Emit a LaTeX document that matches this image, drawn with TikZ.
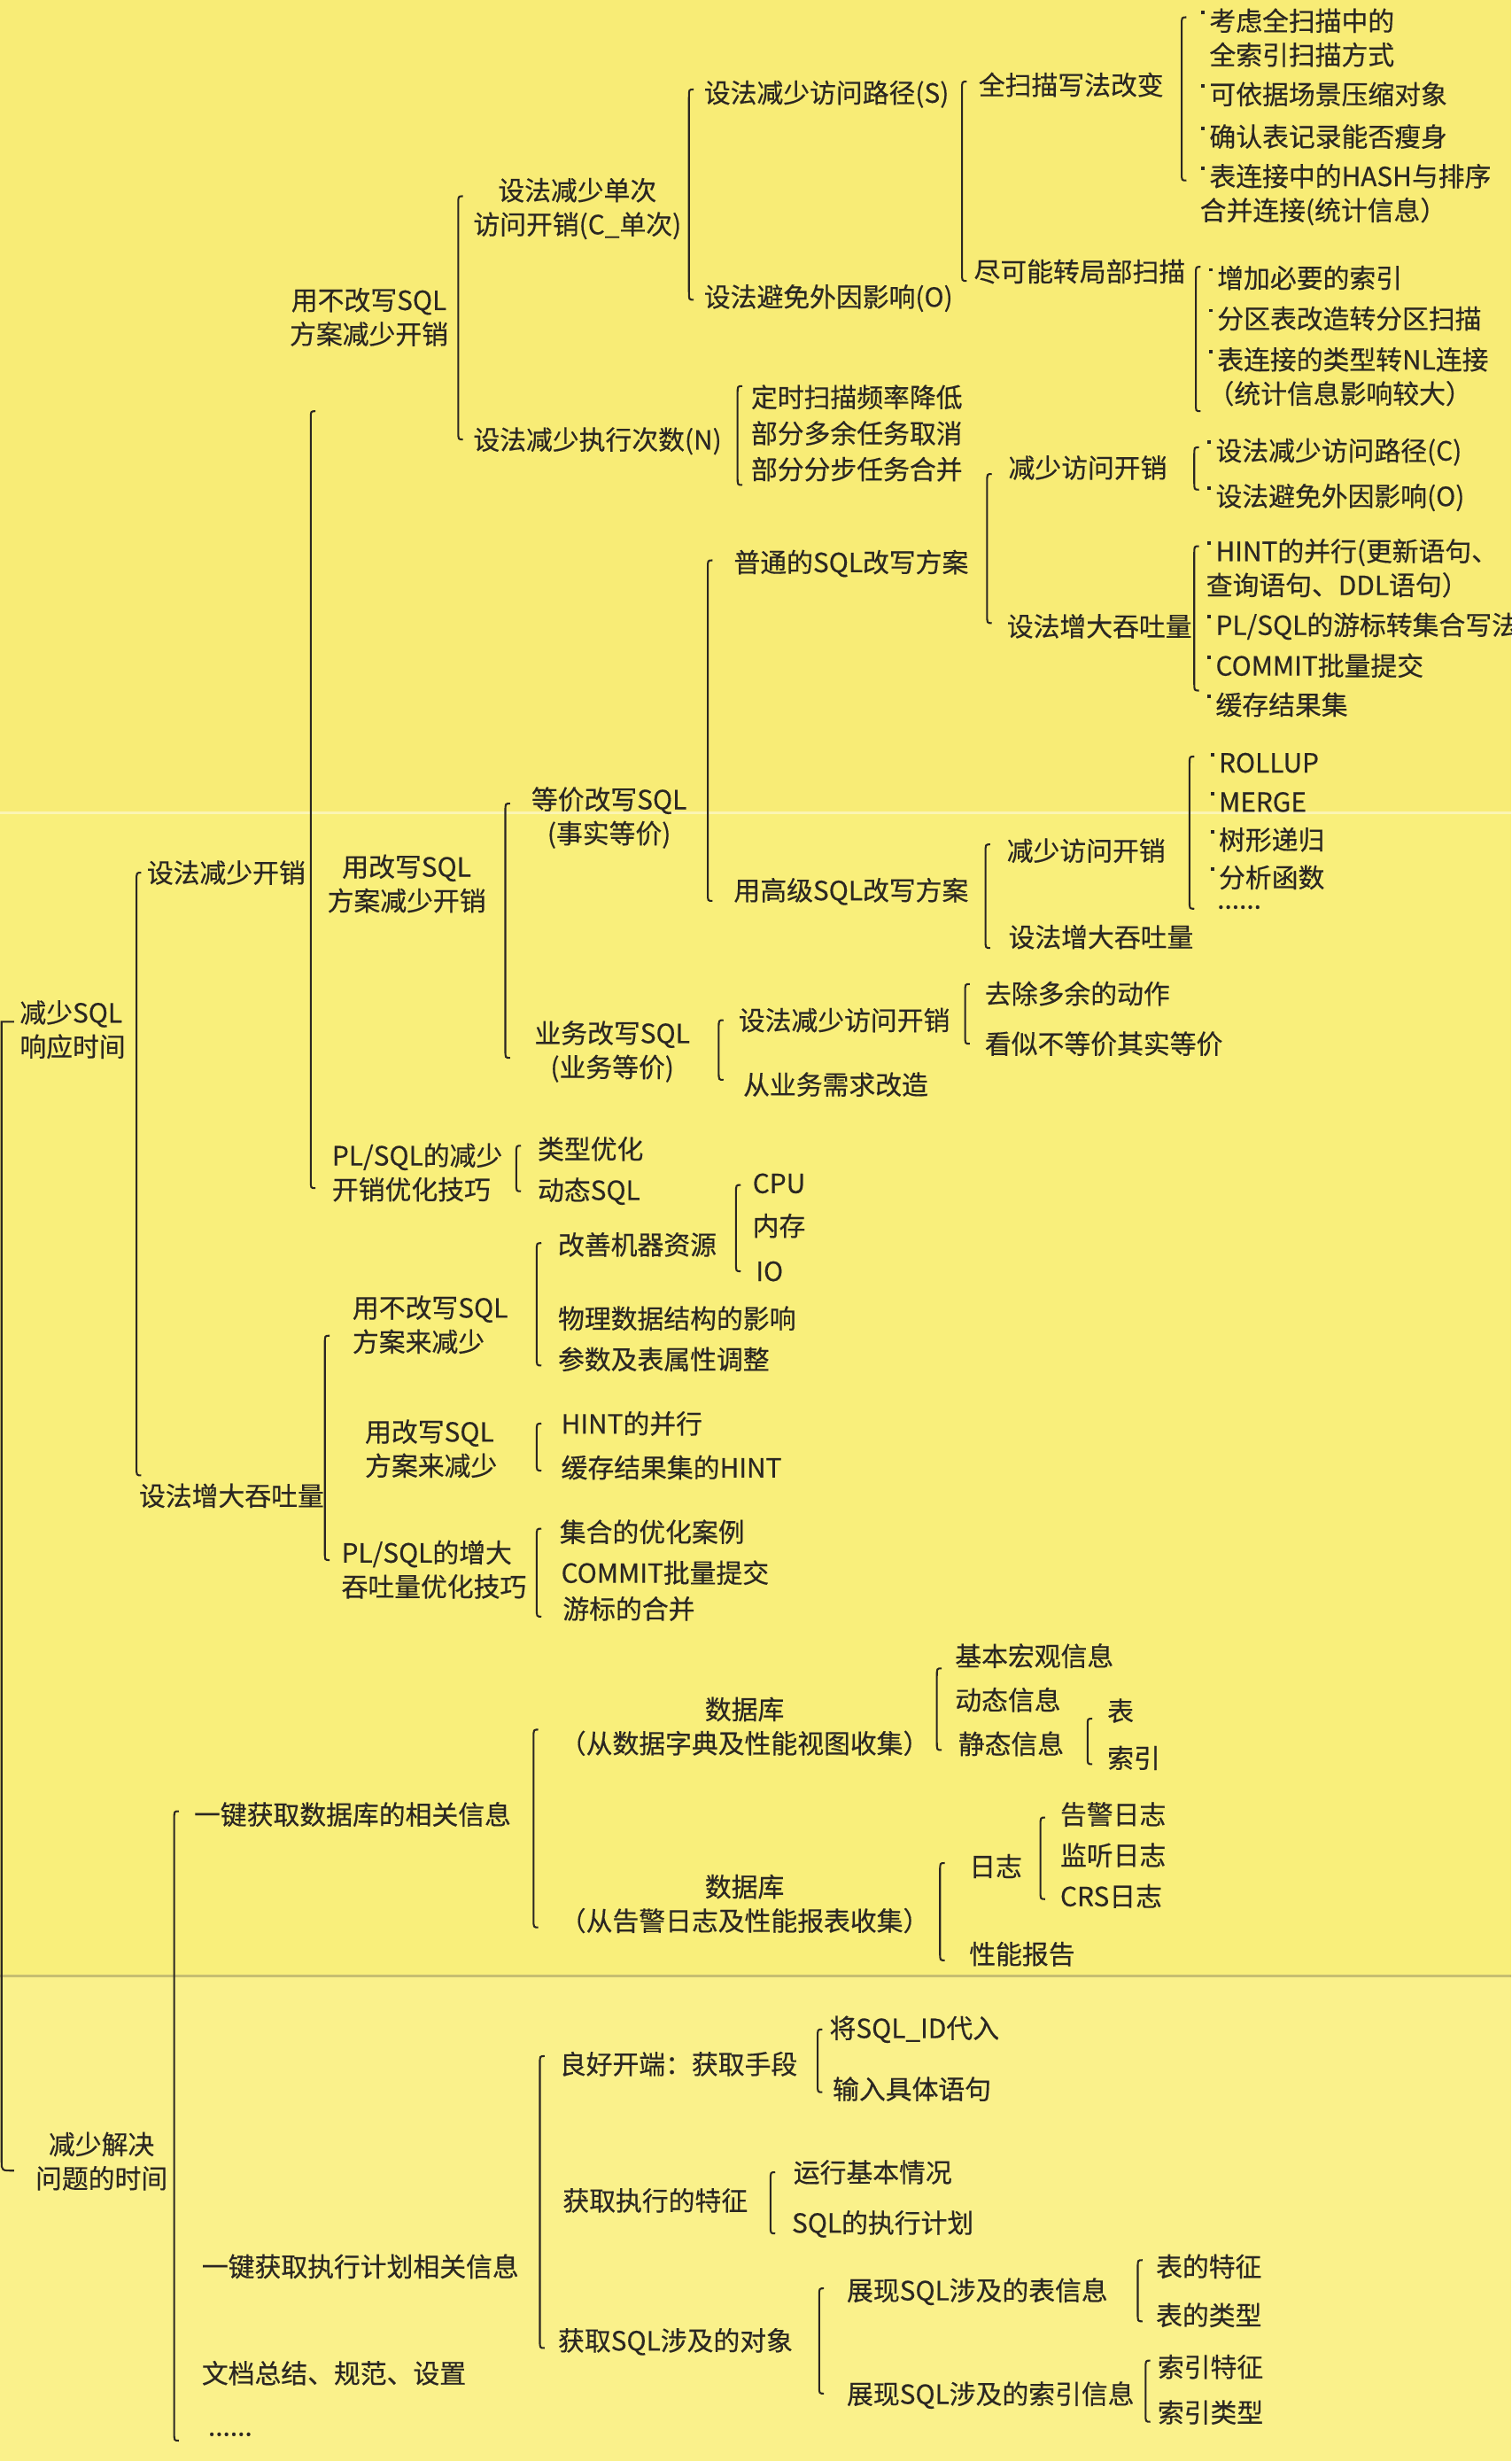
\documentclass[tikz,border=0pt]{standalone}
\usepackage{fontspec}
\setmainfont{Noto Sans CJK SC}[FakeBold=0.4]
\usetikzlibrary{calc}

\definecolor{ink}{HTML}{2B2722}
\definecolor{bgtop}{HTML}{F8EC76}
\definecolor{bgmid}{HTML}{F9EF7B}
\definecolor{bgbot}{HTML}{FAF18B}

\tikzset{every picture/.style={line width=0.75pt}}
\tikzset{
  lbl/.style={anchor=west, inner sep=0pt, align=left, text=ink, font=\fontsize{10.1}{13}\selectfont},
  lblc/.style={lbl, align=center},
  brline/.style={draw=ink, line width=0.7pt},
}

% small raised bullet
\newcommand{\bul}{\kern0.05em\rule[0.62em]{0.13em}{0.13em}\kern0.18em}

% bracket from the top child to the bottom child
\newcommand{\brk}[2]{%
  \coordinate (bt) at #1;
  \path #2 coordinate (bb0);
  \coordinate (bb) at (bt |- bb0);
  \draw[brline] ($(bt)+(3,0)$) .. controls (bt) .. ($(bt)+(0,5)$) -- ($(bb)+(0,-5)$) .. controls (bb) .. ($(bb)+(3,0)$);}

\begin{document}
\begin{tikzpicture}[x=0.6pt,y=0.6pt,yscale=-1,xscale=1]
\useasboundingbox (0,0) rectangle (963,1568);

%Shape: Paper
\fill[bgtop] (0,0) rectangle (963,518);
\fill[bgmid] (0,518) rectangle (963,1259);
\fill[bgbot] (0,1259) rectangle (963,1568);
\draw[white, opacity=0.45, line width=1pt] (0,518) -- (963,518);
\draw[ink!25!bgbot, line width=1.2pt] (0,1259) -- (963,1259);

% Text Node: roots
\draw (12,656) node [lbl] (rt1) {减少SQL\\响应时间};
\draw (22,1377) node [lblc] (rt2) {减少解决\\问题的时间};

% Text Node: response time
\draw (93,556) node [lbl] (a1) {设法减少开销};
\draw (88,953) node [lbl] (a2) {设法增大吞吐量};

\draw (184,202) node [lblc] (b1) {用不改写SQL\\方案减少开销};
\draw (208,563) node [lblc] (b2) {用改写SQL\\方案减少开销};
\draw (211,747) node [lbl] (b3) {PL/SQL的减少\\开销优化技巧};

\draw (301,133) node [lblc] (c1) {设法减少单次\\访问开销(C\_单次)};
\draw (301,281) node [lbl] (c2) {设法减少执行次数(N)};

\draw (448,60) node [lbl] (d1) {设法减少访问路径(S)};
\draw (448,190) node [lbl] (d2) {设法避免外因影响(O)};

\draw (623,54) node [lbl] (e1) {全扫描写法改变};
\draw (620,173) node [lbl] (e2) {尽可能转局部扫描};

\draw (764,24) node [lbl] (f1) {\bul 考虑全扫描中的\\\hphantom{\bul}全索引扫描方式};
\draw (764,60) node [lbl] (f2) {\bul 可依据场景压缩对象};
\draw (764,87) node [lbl] (f3) {\bul 确认表记录能否瘦身};
\draw (764,124) node [lbl] (f4) {\bul 表连接中的HASH与排序\\合并连接(统计信息）};

\draw (769,177) node [lbl] (g1) {\bul 增加必要的索引};
\draw (769,203) node [lbl] (g2) {\bul 分区表改造转分区扫描};
\draw (769,240) node [lbl] (g3) {\bul 表连接的类型转NL连接\\（统计信息影响较大）};

\draw (478,253) node [lbl] (h1) {定时扫描频率降低};
\draw (478,276) node [lbl] (h2) {部分多余任务取消};
\draw (478,299) node [lbl] (h3) {部分分步任务合并};

\draw (338,521) node [lblc] (i1) {等价改写SQL\\(事实等价)};
\draw (340,670) node [lblc] (i2) {业务改写SQL\\(业务等价)};

\draw (467,359) node [lbl] (j1) {普通的SQL改写方案};
\draw (467,568) node [lbl] (j2) {用高级SQL改写方案};

\draw (642,298) node [lbl] (k1) {减少访问开销};
\draw (641,399) node [lbl] (k2) {设法增大吞吐量};

\draw (768,288) node [lbl] (l1) {\bul 设法减少访问路径(C)};
\draw (768,317) node [lbl] (l2) {\bul 设法避免外因影响(O)};

\draw (768,362) node [lbl] (m1) {\bul HINT的并行(更新语句、\\查询语句、DDL语句）};
\draw (768,399) node [lbl] (m2) {\bul PL/SQL的游标转集合写法};
\draw (768,424) node [lbl] (m3) {\bul COMMIT批量提交};
\draw (768,449) node [lbl] (m4) {\bul 缓存结果集};

\draw (641,542) node [lbl] (n1) {减少访问开销};
\draw (642,597) node [lbl] (n2) {设法增大吞吐量};

\draw (770,486) node [lbl] (o1) {\bul ROLLUP};
\draw (770,511) node [lbl] (o2) {\bul MERGE};
\draw (770,535) node [lbl] (o3) {\bul 树形递归};
\draw (770,559) node [lbl] (o4) {\bul 分析函数};
\draw (775,578) node [lbl] (o5) {......};

\draw (470,650) node [lbl] (p1) {设法减少访问开销};
\draw (473,691) node [lbl] (p2) {从业务需求改造};

\draw (627,633) node [lbl] (q1) {去除多余的动作};
\draw (627,665) node [lbl] (q2) {看似不等价其实等价};

\draw (342,732) node [lbl] (s1) {类型优化};
\draw (342,759) node [lbl] (s2) {动态SQL};

% Text Node: throughput
\draw (224,844) node [lbl] (t1) {用不改写SQL\\方案来减少};
\draw (232,923) node [lbl] (t2) {用改写SQL\\方案来减少};
\draw (217,1000) node [lbl] (t3) {PL/SQL的增大\\吞吐量优化技巧};

\draw (355,793) node [lbl] (u1) {改善机器资源};
\draw (355,840) node [lbl] (u2) {物理数据结构的影响};
\draw (355,866) node [lbl] (u3) {参数及表属性调整};

\draw (479,754) node [lbl] (v1) {CPU};
\draw (479,781) node [lbl] (v2) {内存};
\draw (481,810) node [lbl] (v3) {IO};

\draw (357,907) node [lbl] (w1) {HINT的并行};
\draw (357,935) node [lbl] (w2) {缓存结果集的HINT};

\draw (356,976) node [lbl] (x1) {集合的优化案例};
\draw (357,1002) node [lbl] (x2) {COMMIT批量提交};
\draw (358,1025) node [lbl] (x3) {游标的合并};

% Text Node: problem solving time
\draw (123,1156) node [lbl] (y1) {一键获取数据库的相关信息};
\draw (128,1444) node [lbl] (y2) {一键获取执行计划相关信息};
\draw (128,1512) node [lbl] (y3) {文档总结、规范、设置};
\draw (132,1551) node [lbl] (y4) {......};

\draw (356,1100) node [lblc] (z1) {数据库\\（从数据字典及性能视图收集）};
\draw (356,1213) node [lblc] (z2) {数据库\\（从告警日志及性能报表收集）};

\draw (608,1055) node [lbl] (aa1) {基本宏观信息};
\draw (608,1083) node [lbl] (aa2) {动态信息};
\draw (610,1111) node [lbl] (aa3) {静态信息};

\draw (705,1090) node [lbl] (ab1) {表};
\draw (705,1120) node [lbl] (ab2) {索引};

\draw (617,1189) node [lbl] (ac1) {日志};
\draw (617,1245) node [lbl] (ac2) {性能报告};

\draw (675,1156) node [lbl] (ad1) {告警日志};
\draw (675,1182) node [lbl] (ad2) {监听日志};
\draw (675,1208) node [lbl] (ad3) {CRS日志};

\draw (356,1315) node [lbl] (ae1) {良好开端：获取手段};
\draw (358,1402) node [lbl] (ae2) {获取执行的特征};
\draw (355,1492) node [lbl] (ae3) {获取SQL涉及的对象};

\draw (528,1293) node [lbl] (af1) {将SQL\_ID代入};
\draw (530,1331) node [lbl] (af2) {输入具体语句};

\draw (505,1384) node [lbl] (ag1) {运行基本情况};
\draw (504,1417) node [lbl] (ag2) {SQL的执行计划};

\draw (539,1460) node [lbl] (ah1) {展现SQL涉及的表信息};
\draw (539,1526) node [lbl] (ah2) {展现SQL涉及的索引信息};

\draw (736,1444) node [lbl] (ai1) {表的特征};
\draw (736,1475) node [lbl] (ai2) {表的类型};

\draw (737,1508) node [lbl] (aj1) {索引特征};
\draw (737,1537) node [lbl] (aj2) {索引类型};

%Straight Lines: root bracket
\draw[brline] ($(rt1.west)+(-3,-5)$) -- ($(rt1.west)+(-11,-5)$) -- ($(rt2.west)+(-21,0)$) .. controls ($(rt2.west)+(-21,6)$) .. ($(rt2.west)+(-13,6)$);

%Shape: Brackets
\brk{($(a1.west)+(-6,0)$)}{($(a2.west)+(-1,-13)$)}
\brk{($(b1.west)+(14,60)$)}{($(b3.west)+(-13,10)$)}
\brk{($(c1.west)+(-9,-8)$)}{($(c2.west)+(-9,-1)$)}
\brk{($(d1.west)+(-9,-3)$)}{($(d2.west)+(-9,1)$)}
\brk{($(e1.west)+(-10,-2)$)}{($(e2.west)+(-7,6)$)}
\brk{($(f1.west)+(-11,-13)$)}{($(f4.west)+(-11,-9)$)}
\brk{($(g1.west)+(-7,-7)$)}{($(g3.west)+(-7,22)$)}
\brk{($(h1.west)+(-8,-7)$)}{($(h3.west)+(-8,10)$)}
\brk{($(i1.west)+(-16,-9)$)}{($(i2.west)+(-18,4)$)}
\brk{($(j1.west)+(-16,-2)$)}{($(j2.west)+(-16,6)$)}
\brk{($(k1.west)+(-13,4)$)}{($(k2.west)+(-12,-2)$)}
\brk{($(l1.west)+(-7,-3)$)}{($(l2.west)+(-7,-5)$)}
\brk{($(m1.west)+(-7,-14)$)}{($(m4.west)+(-7,-9)$)}
\brk{($(n1.west)+(-13,-4)$)}{($(n2.west)+(-14,7)$)}
\brk{($(o1.west)+(-12,-4)$)}{($(o5.west)+(-17,1)$)}
\brk{($(p1.west)+(-12,0)$)}{($(p2.west)+(-15,-3)$)}
\brk{($(q1.west)+(-12,-6)$)}{($(q2.west)+(-12,0)$)}
\brk{($(s1.west)+(-13,-2)$)}{($(s2.west)+(-13,0)$)}
\brk{($(t1.west)+(-17,7)$)}{($(t3.west)+(-10,-6)$)}
\brk{($(u1.west)+(-13,-1)$)}{($(u3.west)+(-13,4)$)}
\brk{($(v1.west)+(-10,1)$)}{($(v3.west)+(-12,0)$)}
\brk{($(w1.west)+(-15,0)$)}{($(w2.west)+(-15,2)$)}
\brk{($(x1.west)+(-14,-2)$)}{($(x3.west)+(-16,5)$)}
\brk{($(y1.west)+(-12,-2)$)}{($(y4.west)+(-21,4)$)}
\brk{($(z1.west)+(-16,2)$)}{($(z2.west)+(-16,15)$)}
\brk{($(aa1.west)+(-11,8)$)}{($(aa3.west)+(-13,4)$)}
\brk{($(ab1.west)+(-12,5)$)}{($(ab2.west)+(-12,4)$)}
\brk{($(ac1.west)+(-18,-2)$)}{($(ac2.west)+(-18,4)$)}
\brk{($(ad1.west)+(-12,2)$)}{($(ad3.west)+(-12,2)$)}
\brk{($(ae1.west)+(-12,-5)$)}{($(ae3.west)+(-11,4)$)}
\brk{($(af1.west)+(-7,0)$)}{($(af2.west)+(-9,2)$)}
\brk{($(ag1.west)+(-14,0)$)}{($(ag2.west)+(-13,6)$)}
\brk{($(ah1.west)+(-17,-2)$)}{($(ah2.west)+(-17,-1)$)}
\brk{($(ai1.west)+(-11,-4)$)}{($(ai2.west)+(-11,4)$)}
\brk{($(aj1.west)+(-7,-4)$)}{($(aj2.west)+(-7,6)$)}

\end{tikzpicture}
\end{document}
